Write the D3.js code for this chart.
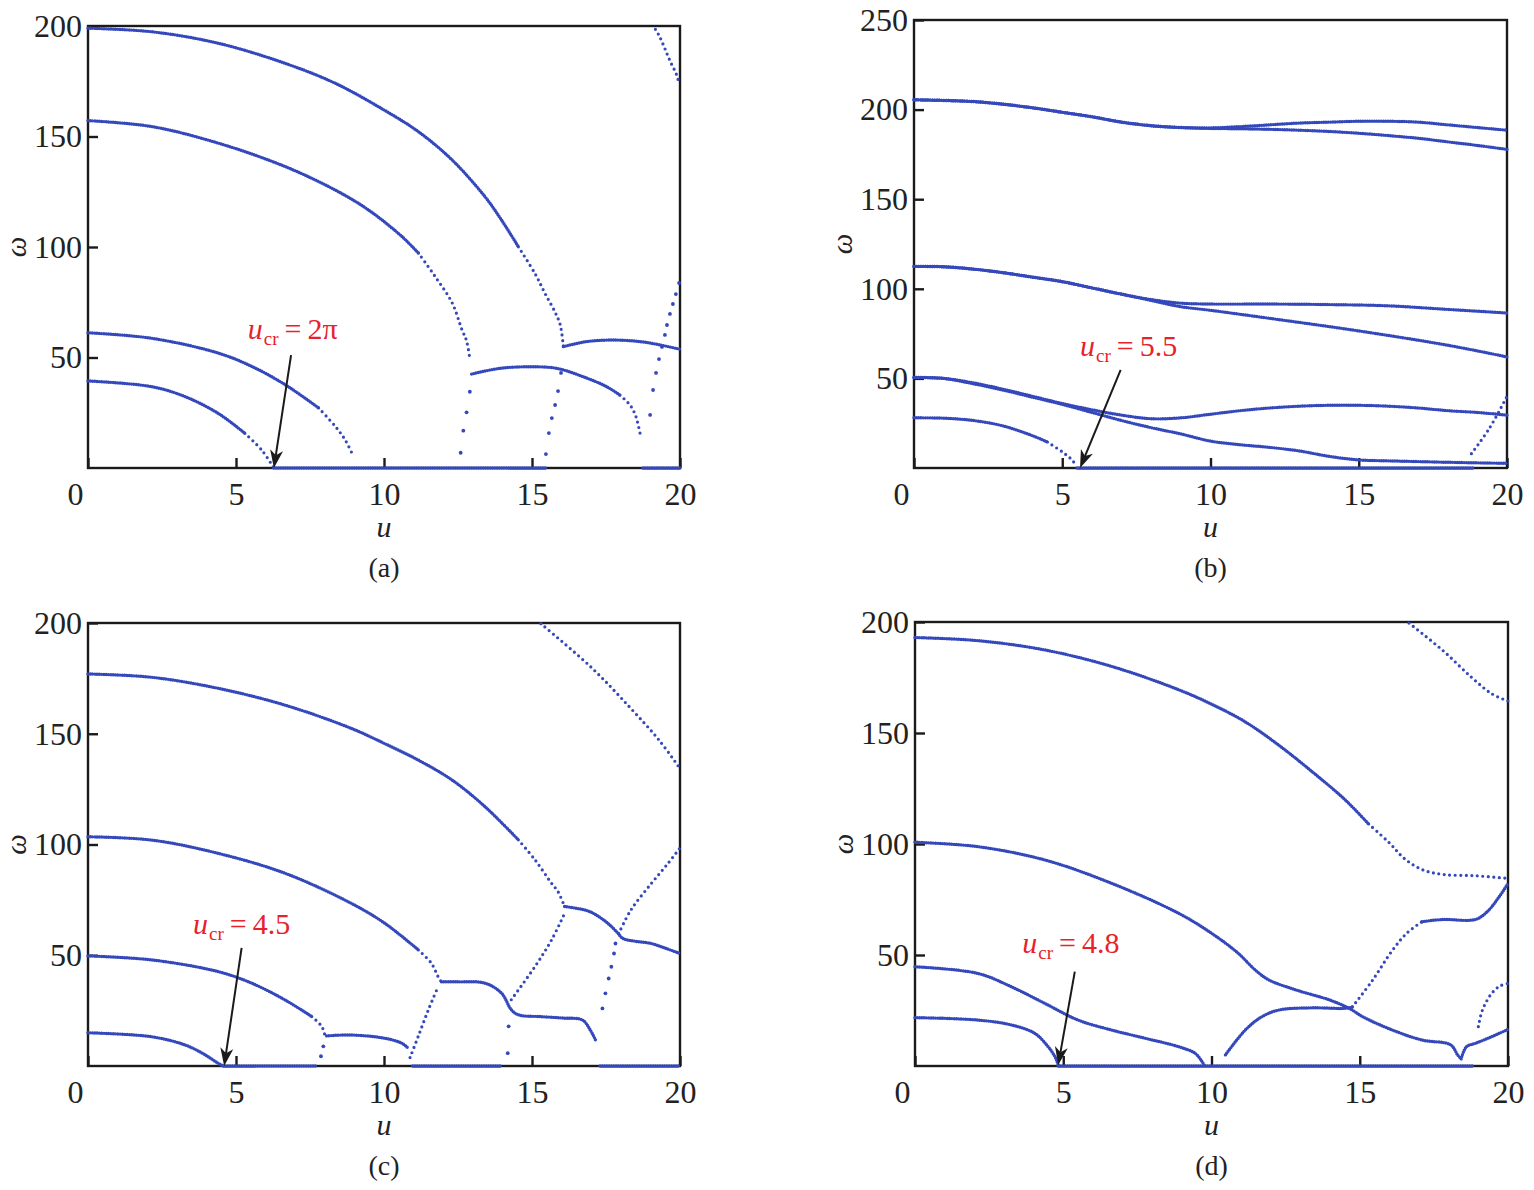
<!DOCTYPE html>
<html>
<head>
<meta charset="utf-8">
<script src="https://cdn.jsdelivr.net/npm/d3@7"></script>
<style>
  body { margin: 0; background: #fff; }
  svg { display: block; }
  text { font-family: "Liberation Serif", "DejaVu Serif", serif; }
</style>
</head>
<body>
<svg width="1534" height="1190"></svg>
<script>
// tick values
const uTicks = [0, 5, 10, 15, 20];
const wTicks200 = [50, 100, 150, 200];
const wTicks250 = [50, 100, 150, 200, 250];

// ---- panel (a) : [u, omega]
const aMode1 = [[0,199],[2.15,197.4],[4.4,192.2],[6.66,183.1],[8.35,174.1],[10,162],[11.16,152.2],[12.3,139.4],[13.41,122.8],[13.97,112.2],[14.54,100.1]];
const aMode1Tail = [[14.54,100.1],[15.1,88],[15.44,79],[15.78,70.5],[15.95,65],[16.06,55]];
const aMode2 = [[0,157.2],[2.15,154.5],[4.4,147],[6.66,136.4],[8.35,125.8],[9.47,116.8],[10.6,104.8],[11.16,97.3]];
const aMode2Tail = [[11.16,97.3],[11.72,86.8],[12.3,74.8],[12.63,62.7],[12.79,57.5],[12.9,49.3]];
const aMode3 = [[0,61.2],[2.15,58.7],[4.4,52],[5.53,46],[6.66,37.7],[7.79,27.2]];
const aMode3Tail = [[7.79,27.2],[8.35,18.9],[8.68,12.9],[8.91,6.9]];
const aMode4 = [[0,39.4],[2.15,36.8],[3.28,32.3],[4.4,24.7],[5.3,15.7]];
const aMode4Tail = [[5.3,15.7],[5.87,8.1],[6.28,0]];
const aHump1 = [[12.96,42.5],[13.92,45.1],[14.93,45.8],[15.83,45.1],[16.73,41.3],[17.52,36.8],[17.97,33]];
const aHump1Tail = [[17.97,33],[18.31,28.5],[18.48,24.4],[18.57,20.5],[18.67,14.5]];
const aHump2 = [[16.06,54.9],[16.84,57.2],[17.75,57.9],[18.65,57.2],[19.32,55.7],[19.98,53.8]];
const aTop = [[19.17,198.5],[19.3,195.5],[19.47,190.4],[19.66,184.3],[19.88,178.1],[19.97,174]];
const aRise1 = [[12.59,6.9],[12.68,16.9],[12.79,25.2],[12.9,34.5]];
const aRise2 = [[15.47,6.3],[15.57,15.8],[15.67,22.6],[15.78,28.5],[15.88,34.8],[15.98,43]];
const aRise3 = [[18.99,24],[19.09,35.3],[19.19,43],[19.29,49.3],[19.39,54.8],[19.49,60.2],[19.56,64.7],[19.66,69.7],[19.76,74.2],[19.86,78.7],[19.97,83.7]];
const aZero = [[6.28,15.45],[18.75,20]];

// ---- panel (b)
const bMode1a = [[0,205.5],[2,204.5],[3,203],[4,201],[5,198.5],[6,196],[7,193],[8,191],[9,190],[10,189.8],[11,190.5],[12,191.5],[13,192.5],[14,193],[15,193.5],[16,193.5],[17,193],[18,191.5],[19,190],[20,188.5]];
const bMode1b = [[0,205.5],[2,204.5],[3,203],[4,201],[5,198.5],[6,196],[7,193],[8,191],[9,190],[10,189.5],[11,189.3],[12,189],[13,188.5],[14,187.8],[15,186.8],[16,185.5],[17,184],[18,182],[19,180],[20,177.8]];
const bMode2a = [[0,112.5],[1,112.3],[2,111],[3,109],[4,106.5],[5,104],[6,100.5],[7,97],[8,94],[9,92],[10,91.5],[12,91.5],[14,91.2],[16,90.5],[18,88.5],[20,86.5]];
const bMode2b = [[0,112.5],[1,112.3],[2,111],[3,109],[4,106.5],[5,104],[6,100.5],[7,97],[8,93.5],[9,90],[10,88],[12,83.5],[15,76.5],[18,68.5],[20,62]];
const bMode3a = [[0,50.5],[1,50],[2,47.5],[3,44],[4,40],[5,36],[6,32.5],[7,29.5],[8,27.5],[9,28],[10,30],[11,32],[12,33.5],[13,34.5],[14,35],[15,35],[16,34.5],[17,33.5],[18,32],[19,31],[20,29.5]];
const bMode3b = [[0,50.5],[1,50],[2,47],[3,43.5],[4,39.5],[5,35.5],[6,31],[7,26.5],[8,22.5],[9,19],[10,15],[11,13],[12,11.5],[13,9.5],[14,6.5],[15,4.5],[16,4],[18,3.2],[20,2.6]];
const bMode4 = [[0,28],[1,27.8],[2,26.5],[3,23.5],[4,18],[4.5,14.5]];
const bMode4Tail = [[4.5,14.5],[5,9],[5.3,5],[5.45,2]];
const bRise = [[18.8,8],[19.4,22],[20,40]];
const bZero = [[5.5,18.85]];

// ---- panel (c)
const cMode1 = [[0,177],[2.15,175.5],[4.4,170.5],[6.66,162.9],[8.9,152.4],[10.03,145.5],[11.16,138.1],[12.3,129.1],[13.41,117.1],[14.54,102.1]];
const cMode1Tail = [[14.54,102.1],[15.1,93.1],[15.66,82.5],[15.88,78.7],[16.1,72]];
const cMode2 = [[0,103.5],[2.15,102],[4.4,96],[6.66,87],[8.9,73.4],[10.03,64.4],[11.16,52.4]];
const cMode2Tail = [[11.16,52.4],[11.6,46.4],[11.83,40.3],[11.94,38]];
const cMode3 = [[0,49.7],[2.15,47.9],[4.4,42.6],[5.53,37.4],[6.66,29.8],[7.56,22.3]];
const cMode3Tail = [[7.56,22.3],[7.9,17.8],[8.0,14]];
const cMode4 = [[0,15],[2.15,13.2],[3.28,9.5],[3.9,5.5],[4.4,1.2],[4.57,0]];
const cStepA = [[16.1,72],[16.5,71.2],[16.97,69.6],[17.5,65.1],[17.86,60.6],[18.07,57.6],[18.5,56.3],[19.03,55.3],[19.5,53.2],[20,50.8]];
const cStepB = [[11.94,38],[12.5,38],[13.41,37.4],[13.97,32.9],[14.3,25.4],[14.54,23.1],[15.3,22.3],[16.1,21.6],[16.7,20.8],[16.97,16.2],[17.17,11]];
const cStepC = [[8.06,13.6],[8.9,14],[10.03,12.5],[10.6,10.3],[10.82,8]];
const cTop = [[15.3,199.7],[17,180],[18.3,162],[19.3,147],[20,134.3]];
const cRiseA = [[14.3,29.9],[15.1,44.9],[15.66,56.9],[16.1,68.9]];
const cRiseB = [[17.93,59.8],[18.34,70.4],[19.03,82.4],[19.59,91.4],[20,98.5]];
const cRiseC = [[10.88,3.8],[11.16,13.5],[11.5,25.4],[11.83,35.9]];
const cTail3 = [[7.95,8.9],[7.87,4.4]];
const cDrop = [[17.38,26],[17.48,32.8],[17.59,39.5],[17.68,44.8],[17.77,50.8],[17.82,55.3]];
const cDots = [[14.18,5.8],[14.21,17.9]];
const cZero = [[4.57,7.72],[10.97,14.0],[17.3,20]];

// ---- panel (d)
const dMode1 = [[0,193],[2.12,191.6],[4.38,187.4],[6.63,180],[8.89,169.5],[10,163],[11.14,155],[12.27,144.5],[13.4,132.5],[14.5,120],[15.3,109]];
const dMode1Tail = [[15.3,109],[16,100.5],[16.5,93.5],[17.1,88.5],[17.8,86.3],[18.9,85.7],[20,84.5]];
const dMode2 = [[0,100.8],[2.12,98.8],[4.38,92.8],[6.63,82.3],[8.89,68.8],[10,59.8],[10.9,50.8],[11.47,43.3],[11.93,38.8],[12.84,34.3],[13.97,29.8],[14.64,26],[15.1,22.2],[16.1,16.2],[17.1,11.7],[18.07,9.5],[18.3,5],[18.42,3.2]];
const dMode3 = [[0,44.7],[2.12,41.7],[3.25,35.7],[4.38,28.2],[5.5,20.7],[6.63,16.2],[7.76,12.5],[8.89,8.7],[9.45,5.7],[9.68,2],[9.77,0]];
const dMode4 = [[0,21.8],[2.12,20.7],[3.25,18.5],[4.04,14.7],[4.49,8.7],[4.72,4.2],[4.83,0.5]];
const dHump = [[10.47,5],[11.14,16.2],[11.7,22.2],[12.27,25.2],[13.4,26.2],[14.53,26],[14.75,26.6]];
const dRise = [[14.75,26.6],[15.43,38.6],[16.1,52.1],[16.6,60],[17.1,65]];
const dPlateau = [[17.1,65],[17.8,66],[18.9,66],[19.3,69.5],[19.7,76.2],[20,82.2]];
const dV = [[18.42,3.2],[18.6,8.7],[18.9,10.2],[19.45,13.2],[20,16.5]];
const dTop = [[16.66,199.5],[17.8,187.2],[18.76,175.2],[19.45,167.7],[20,164.4]];
const dRight = [[19.0,17.7],[19.1,23.7],[19.24,28.2],[19.45,32.7],[19.72,36],[20,37.2]];
const dZero = [[4.83,18.8]];

// critical velocity labels
const ucrLabels = ['2\u03c0', '5.5', '4.5', '4.8'];

const panels = [
    { name: '(a)', box: { x: 88, y: 26, w: 592, h: 442 }, wMax: 200, wTicks: wTicks200,
      dense: [aMode1, aMode2, aMode3, aMode4, aHump1, aHump2],
      mid: [aMode1Tail, aMode2Tail, aMode3Tail, aMode4Tail, aHump1Tail, aTop],
      dots: [aRise1, aRise2, aRise3], zero: aZero,
      note: { label: ucrLabels[0], at: [5.4, 58.4], from: [6.86, 51.1], to: [6.28, 0] } },
    { name: '(b)', box: { x: 914, y: 20, w: 593, h: 448 }, wMax: 250, wTicks: wTicks250,
      dense: [bMode1a, bMode1b, bMode2a, bMode2b, bMode3a, bMode3b, bMode4],
      mid: [bMode4Tail, bRise],
      dots: [], zero: bZero,
      note: { label: ucrLabels[1], at: [5.6, 62.5], from: [6.97, 54.7], to: [5.6, 0] } },
    { name: '(c)', box: { x: 88, y: 623, w: 592, h: 443 }, wMax: 200, wTicks: wTicks200,
      dense: [cMode1, cMode2, cMode3, cMode4, cStepA, cStepB, cStepC],
      mid: [cMode1Tail, cMode2Tail, cMode3Tail, cTop, cRiseA, cRiseB, cRiseC],
      dots: [cTail3, cDrop, cDots], zero: cZero,
      note: { label: ucrLabels[2], at: [3.55, 59.6], from: [5.19, 53.3], to: [4.6, 0] } },
    { name: '(d)', box: { x: 915, y: 622, w: 593, h: 444 }, wMax: 200, wTicks: wTicks200,
      dense: [dMode1, dMode2, dMode3, dMode4, dHump, dPlateau, dV],
      mid: [dMode1Tail, dRise, dTop, dRight],
      dots: [], zero: dZero,
      note: { label: ucrLabels[3], at: [3.62, 50.9], from: [5.39, 42.5], to: [4.83, 0.5] } }
];

const svg = d3.select('svg');
const BLUE = '#3448bc';
const RED = '#e8212b';
const INK = '#1a1a1a';
const FONT = '"Liberation Serif", "DejaVu Serif", serif';

const styles = {
    dense: { width: 3.4, gap: 2.3 },
    mid: { width: 3.2, gap: 5.5 }
};

panels.forEach(drawPanel);

function drawPanel(p) {
    const b = p.box;
    const x = d3.scaleLinear().domain([0, 20]).range([b.x, b.x + b.w]);
    const y = d3.scaleLinear().domain([0, p.wMax]).range([b.y + b.h, b.y]);
    const g = svg.append('g');

    // frame
    g.append('rect')
        .attr('x', b.x).attr('y', b.y)
        .attr('width', b.w).attr('height', b.h)
        .attr('fill', 'none')
        .attr('stroke', INK)
        .attr('stroke-width', 2.4);

    // axes, ticks pointing inward
    const xAxis = d3.axisBottom(x).tickValues(uTicks).tickSizeInner(-10).tickSizeOuter(0).tickPadding(14);
    const ax = g.append('g').attr('transform', `translate(0,${y(0)})`).call(xAxis);
    const yAxis = d3.axisLeft(y).tickValues(p.wTicks).tickSizeInner(-10).tickSizeOuter(0).tickPadding(6);
    const ay = g.append('g').attr('transform', `translate(${x(0)},0)`).call(yAxis);

    [ax, ay].forEach(a => {
        a.attr('font-size', 32).attr('font-family', FONT);
        a.select('.domain').remove();
        a.selectAll('.tick line').attr('stroke', INK).attr('stroke-width', 2.4);
        a.selectAll('.tick text').attr('fill', '#222');
    });
    // the corner "0" sits left of the axis
    ax.selectAll('.tick').filter(d => d === 0).select('text').attr('dx', -13);

    // axis titles and panel name
    g.append('text')
        .attr('x', x(10)).attr('y', b.y + b.h + 69)
        .attr('text-anchor', 'middle')
        .attr('font-size', 30).attr('font-style', 'italic').attr('fill', '#222')
        .text('u');
    g.append('text')
        .attr('transform', `translate(${b.x - 62},${y(p.wMax / 2)}) rotate(-90)`)
        .attr('text-anchor', 'middle')
        .attr('font-size', 29).attr('font-style', 'italic').attr('fill', '#222')
        .text('\u03c9');
    g.append('text')
        .attr('x', x(10)).attr('y', b.y + b.h + 109)
        .attr('text-anchor', 'middle')
        .attr('font-size', 28).attr('fill', '#222')
        .text(p.name);

    // curves as dotted strokes
    const line = d3.line()
        .x(d => x(d[0]))
        .y(d => y(d[1]))
        .curve(d3.curveCatmullRom.alpha(0.5));

    ['dense', 'mid'].forEach(k => {
        g.selectAll(null)
            .data(p[k])
            .enter().append('path')
            .attr('d', line)
            .attr('fill', 'none')
            .attr('stroke', BLUE)
            .attr('stroke-width', styles[k].width)
            .attr('stroke-linecap', 'round')
            .attr('stroke-dasharray', `0 ${styles[k].gap}`);
    });

    // zero-frequency branch lying on the u axis
    g.selectAll(null)
        .data(p.zero)
        .enter().append('path')
        .attr('d', r => line([[r[0], 0], [r[1], 0]]))
        .attr('fill', 'none')
        .attr('stroke', BLUE)
        .attr('stroke-width', styles.dense.width)
        .attr('stroke-linecap', 'round')
        .attr('stroke-dasharray', `0 ${styles.dense.gap}`);

    // single sparse points on the steep branches
    g.selectAll(null)
        .data(p.dots.flat())
        .enter().append('circle')
        .attr('cx', d => x(d[0]))
        .attr('cy', d => y(d[1]))
        .attr('r', 1.9)
        .attr('fill', BLUE);

    // u_cr annotation
    const n = p.note;
    const t = g.append('text')
        .attr('x', x(n.at[0])).attr('y', y(n.at[1]))
        .attr('font-size', 30).attr('fill', RED);
    t.append('tspan').attr('font-style', 'italic').text('u');
    t.append('tspan').attr('font-size', 19).attr('dy', 6).attr('dx', 1).text('cr');
    t.append('tspan').attr('dy', -6).attr('dx', 6).text('=');
    t.append('tspan').attr('dx', 6).text(n.label);

    const x0 = x(n.from[0]), y0 = y(n.from[1]);
    const x1 = x(n.to[0]), y1 = y(n.to[1]);
    const ang = Math.atan2(y1 - y0, x1 - x0);
    const L = 18, W = 6.5;
    const bx = x1 - L * Math.cos(ang), by = y1 - L * Math.sin(ang);
    const nx = -Math.sin(ang), ny = Math.cos(ang);
    const mx = x1 - 0.72 * L * Math.cos(ang), my = y1 - 0.72 * L * Math.sin(ang);
    g.append('line')
        .attr('x1', x0).attr('y1', y0)
        .attr('x2', mx).attr('y2', my)
        .attr('stroke', INK).attr('stroke-width', 2);
    g.append('path')
        .attr('d', `M${x1},${y1}L${bx + W * nx},${by + W * ny}L${mx},${my}L${bx - W * nx},${by - W * ny}Z`)
        .attr('fill', INK);
}
</script>
</body>
</html>
